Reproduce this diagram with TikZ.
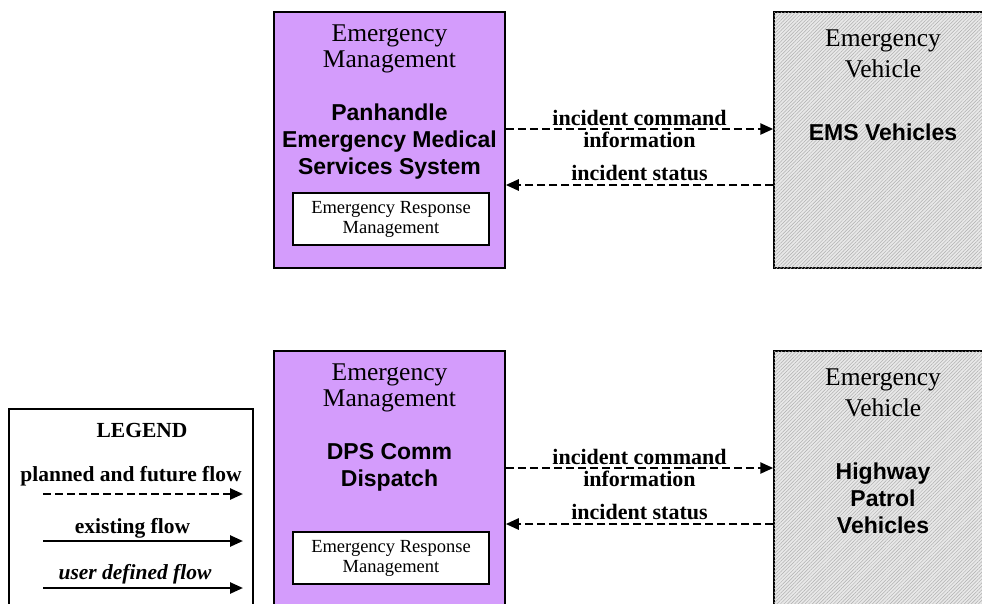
\documentclass[tikz,border=0pt]{standalone}
\usepackage{fontspec}
\setmainfont{Liberation Serif}
\newfontfamily\arialfont{Liberation Sans}
\usetikzlibrary{arrows.meta,patterns.meta}
\definecolor{empurple}{RGB}{212,156,252}
\definecolor{hatchbg}{RGB}{232,232,232}
\definecolor{hatchln}{RGB}{175,175,175}
\begin{document}
\begin{tikzpicture}[x=1pt,y=-1pt,
  sysbox/.style={draw=black, line width=1.5pt, fill=empurple, minimum width=231pt, minimum height=256pt, inner sep=0pt},
  vehbox/.style={draw=black, line width=1.5pt, fill=hatchbg, postaction={pattern={Lines[angle=45,distance=2.5pt,line width=0.5pt]}, pattern color=hatchln}, minimum width=218pt, minimum height=256pt, inner sep=0pt},
  innerbox/.style={draw=black, line width=1.2pt, fill=white, minimum width=196pt, minimum height=52pt, inner sep=0pt, align=center, font=\fontsize{18.5}{20}\selectfont},
  legbox/.style={draw=black, line width=1.5pt, fill=white, minimum width=244pt, minimum height=211pt, inner sep=0pt},
  hdr/.style={inner sep=0pt, align=center, font=\fontsize{25.5}{26}\selectfont},
  vhdr/.style={inner sep=0pt, align=center, font=\fontsize{25.5}{31}\selectfont},
  nm/.style={inner sep=0pt, align=center, font=\arialfont\bfseries\fontsize{23}{27}\selectfont},
  lbl/.style={inner sep=0pt, align=center, font=\bfseries\fontsize{22}{22}\selectfont},
  legtxt/.style={inner sep=0pt, anchor=base, font=\bfseries\fontsize{21.5}{22}\selectfont},
  flowp/.style={line width=2.5pt, dash pattern=on 8pt off 4pt, -{Triangle[length=13pt,width=11pt]}},
  flowe/.style={line width=2.5pt, -{Triangle[length=13pt,width=11pt]}}
]
\useasboundingbox (0,0) rectangle (982,603);
\clip (0,0) rectangle (982,603);

% ---------- top pair ----------
\node[sysbox] (em1) at (389.5,140) {};
\node[vehbox] (ev1) at (883,140) {};
\node[hdr] (em1h) at (389.5,48.5) {Emergency\\Management};
\node[nm] (em1n) at (389.5,142) {Panhandle\\Emergency Medical\\Services System};
\node[innerbox] (erm1) at (391,219) {Emergency Response\\Management};
\node[vhdr] (ev1h) at (883,54) {Emergency\\Vehicle};
\node[nm, anchor=base] (ev1n) at (883,140) {EMS Vehicles};

\draw[flowp] ([yshift=11pt]em1.east) -- ([yshift=11pt]ev1.west)
  node[midway, lbl] {incident command\\information};
\draw[flowp] ([yshift=-45pt]ev1.west) -- ([yshift=-45pt]em1.east)
  node[midway, lbl, anchor=base, yshift=5pt] {incident status};

% ---------- bottom pair ----------
\node[sysbox] (em2) at (389.5,479) {};
\node[vehbox] (ev2) at (883,479) {};
\node[hdr] (em2h) at (389.5,387.5) {Emergency\\Management};
\node[nm] (em2n) at (389.5,467) {DPS Comm\\Dispatch};
\node[innerbox] (erm2) at (391,558) {Emergency Response\\Management};
\node[vhdr] (ev2h) at (883,393) {Emergency\\Vehicle};
\node[nm] (ev2n) at (883,498) {Highway\\Patrol\\Vehicles};

\draw[flowp] ([yshift=11pt]em2.east) -- ([yshift=11pt]ev2.west)
  node[midway, lbl] {incident command\\information};
\draw[flowp] ([yshift=-45pt]ev2.west) -- ([yshift=-45pt]em2.east)
  node[midway, lbl, anchor=base, yshift=5pt] {incident status};

% ---------- legend ----------
\node[legbox] (leg) at (131,514.5) {};
\node[legtxt] (legt) at (142,437) {LEGEND};
\node[legtxt] (legp) at (131,481) {planned and future flow};
\coordinate (lps) at (43,494);
\coordinate (lpe) at (243,494);
\draw[flowp] (lps) -- (lpe);
\node[legtxt] (lege) at (132.5,533) {existing flow};
\coordinate (les) at (43,541);
\coordinate (lee) at (243,541);
\draw[flowe] (les) -- (lee);
\node[legtxt, font=\bfseries\itshape\fontsize{21.5}{22}\selectfont] (legu) at (135,579) {user defined flow};
\coordinate (lus) at (43,588);
\coordinate (lue) at (243,588);
\draw[flowe] (lus) -- (lue);
\end{tikzpicture}
\end{document}
